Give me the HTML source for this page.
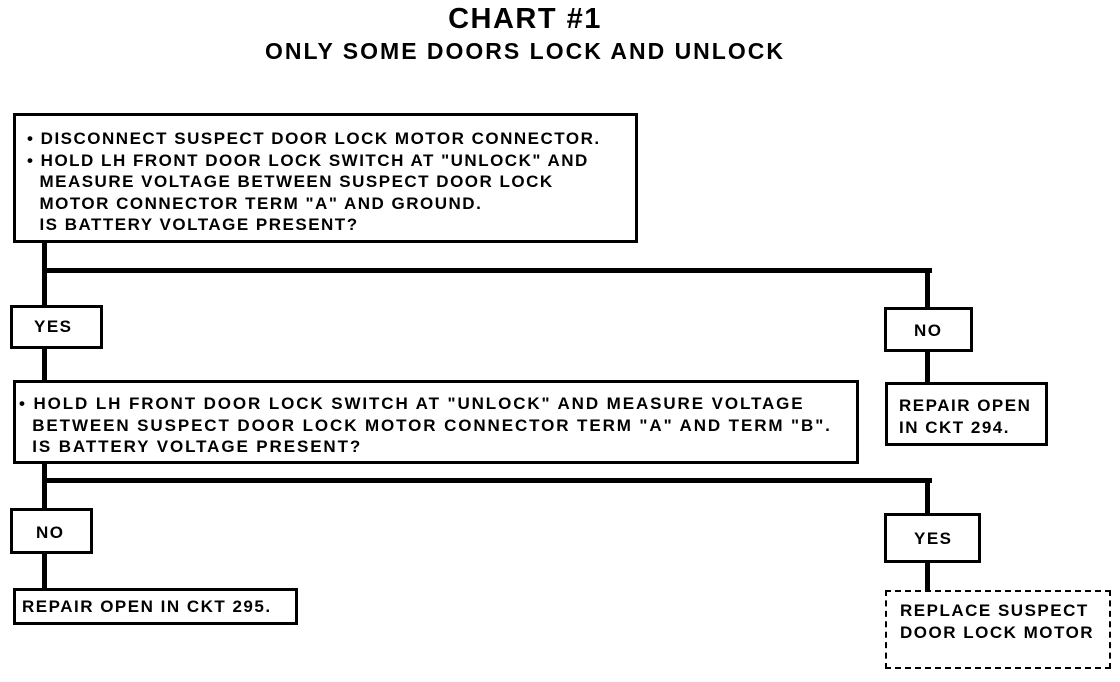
<!DOCTYPE html>
<html><head><meta charset="utf-8"><style>
body{margin:0;width:1120px;height:682px;background:#fff;position:relative;overflow:hidden;font-family:"Liberation Sans",sans-serif;font-weight:bold;color:#000}
.b{position:absolute;border:3px solid #000;box-sizing:border-box;background:#fff}
.l{position:absolute;background:#000}
.t{position:absolute;font-size:17px;letter-spacing:1.5px;line-height:21.5px;white-space:pre}
</style></head><body>
<div class="t" style="left:0;width:1050px;text-align:center;top:4px;font-size:29px;letter-spacing:1.5px;line-height:30px">CHART #1</div>
<div class="t" style="left:0;width:1050px;text-align:center;top:38px;font-size:23px;letter-spacing:2px;line-height:26px">ONLY SOME DOORS LOCK AND UNLOCK</div>

<div class="l" style="left:42px;top:240px;width:5px;height:67px"></div>
<div class="l" style="left:42px;top:268px;width:890px;height:5px"></div>
<div class="l" style="left:925px;top:268px;width:5px;height:41px"></div>
<div class="l" style="left:42px;top:346px;width:5px;height:36px"></div>
<div class="l" style="left:925px;top:350px;width:5px;height:34px"></div>
<div class="l" style="left:42px;top:461px;width:5px;height:49px"></div>
<div class="l" style="left:42px;top:478px;width:890px;height:5px"></div>
<div class="l" style="left:925px;top:478px;width:5px;height:37px"></div>
<div class="l" style="left:42px;top:551px;width:5px;height:39px"></div>
<div class="l" style="left:925px;top:560px;width:5px;height:32px"></div>

<div class="b" style="left:13px;top:113px;width:625px;height:130px"></div>
<div class="t" style="left:27px;top:128px">• DISCONNECT SUSPECT DOOR LOCK MOTOR CONNECTOR.
• HOLD LH FRONT DOOR LOCK SWITCH AT "UNLOCK" AND
  MEASURE VOLTAGE BETWEEN SUSPECT DOOR LOCK
  MOTOR CONNECTOR TERM "A" AND GROUND.
  IS BATTERY VOLTAGE PRESENT?</div>

<div class="b" style="left:10px;top:305px;width:93px;height:44px"></div>
<div class="t" style="left:34px;top:316px">YES</div>
<div class="b" style="left:884px;top:307px;width:89px;height:45px"></div>
<div class="t" style="left:914px;top:320px">NO</div>
<div class="b" style="left:885px;top:382px;width:163px;height:64px"></div>
<div class="t" style="left:899px;top:395px">REPAIR OPEN
IN CKT 294.</div>

<div class="b" style="left:13px;top:380px;width:846px;height:84px"></div>
<div class="t" style="left:19px;top:393px;letter-spacing:1.9px">• HOLD LH FRONT DOOR LOCK SWITCH AT "UNLOCK" AND MEASURE VOLTAGE
  BETWEEN SUSPECT DOOR LOCK MOTOR CONNECTOR TERM "A" AND TERM "B".
  IS BATTERY VOLTAGE PRESENT?</div>

<div class="b" style="left:10px;top:508px;width:83px;height:46px"></div>
<div class="t" style="left:36px;top:522px">NO</div>
<div class="b" style="left:13px;top:588px;width:285px;height:37px"></div>
<div class="t" style="left:22px;top:596px">REPAIR OPEN IN CKT 295.</div>

<div class="b" style="left:884px;top:513px;width:97px;height:50px"></div>
<div class="t" style="left:914px;top:528px">YES</div>
<div class="b" style="left:885px;top:590px;width:226px;height:79px;border:2px dashed #000"></div>
<div class="t" style="left:900px;top:600px">REPLACE SUSPECT
DOOR LOCK MOTOR</div>
</body></html>
